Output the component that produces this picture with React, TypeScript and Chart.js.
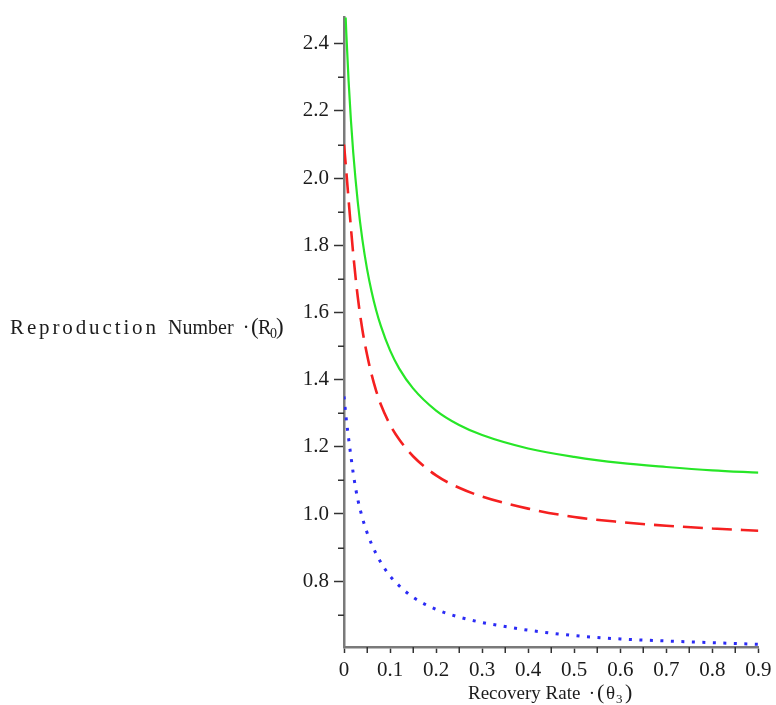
import React, { useEffect, useRef } from 'react';
import { Chart, registerables } from 'chart.js';

Chart.register(...registerables);

// ---- data ----
const greenTheta = [0, 0.005, 0.01, 0.015, 0.02, 0.03, 0.04, 0.05, 0.06, 0.07, 0.08, 0.1, 0.12, 0.15, 0.2, 0.25, 0.3, 0.4, 0.5, 0.6, 0.7, 0.8, 0.9];
const greenR = [2.6, 2.432, 2.289, 2.173, 2.077, 1.928, 1.816, 1.73, 1.662, 1.606, 1.56, 1.487, 1.433, 1.374, 1.308, 1.265, 1.235, 1.195, 1.17, 1.152, 1.14, 1.13, 1.123];

const redTheta = [0, 0.005, 0.01, 0.015, 0.02, 0.03, 0.04, 0.05, 0.06, 0.07, 0.08, 0.1, 0.12, 0.15, 0.2, 0.25, 0.3, 0.4, 0.5, 0.6, 0.7, 0.8, 0.9];
const redR = [2.1, 2.02, 1.935, 1.853, 1.775, 1.645, 1.548, 1.475, 1.415, 1.366, 1.326, 1.266, 1.222, 1.172, 1.115, 1.078, 1.052, 1.016, 0.991, 0.976, 0.965, 0.957, 0.95];

const blueTheta = [0, 0.005, 0.01, 0.015, 0.02, 0.025, 0.03, 0.04, 0.05, 0.06, 0.07, 0.08, 0.09, 0.1, 0.12, 0.15, 0.2, 0.25, 0.3, 0.35, 0.4, 0.5, 0.6, 0.7, 0.8, 0.9];
const blueR = [1.35, 1.282, 1.225, 1.172, 1.122, 1.079, 1.043, 0.988, 0.945, 0.91, 0.881, 0.856, 0.834, 0.815, 0.786, 0.752, 0.716, 0.693, 0.677, 0.665, 0.654, 0.638, 0.628, 0.622, 0.617, 0.612];

const xMajorTicks = [0, 0.1, 0.2, 0.3, 0.4, 0.5, 0.6, 0.7, 0.8, 0.9];
const xTickLabels = ['0', '0.1', '0.2', '0.3', '0.4', '0.5', '0.6', '0.7', '0.8', '0.9'];
const xMinorTicks = [0.05, 0.15, 0.25, 0.35, 0.45, 0.55, 0.65, 0.75, 0.85];
const yMajorTicks = [0.8, 1.0, 1.2, 1.4, 1.6, 1.8, 2.0, 2.2, 2.4];
const yTickLabels = ['0.8', '1.0', '1.2', '1.4', '1.6', '1.8', '2.0', '2.2', '2.4'];
const yMinorTicks = [0.7, 0.9, 1.1, 1.3, 1.5, 1.7, 1.9, 2.1, 2.3];
const xRange = [0, 0.9];
const yRange = [0.604, 2.478];

const FONT = '"Liberation Serif", "Times New Roman", serif';
const TEXT = '#1c1c1c';

function toPoints(xs: number[], ys: number[]) {
  return xs.map((x, i) => ({ x, y: ys[i] }));
}

function spread(ctx: CanvasRenderingContext2D, text: string, x0: number, x1: number, baseline: number) {
  const chars = [...text];
  const widths = chars.map((c) => ctx.measureText(c).width);
  const total = widths.reduce((a, b) => a + b, 0);
  const gap = (x1 - x0 - total) / Math.max(1, chars.length - 1);
  let x = x0;
  chars.forEach((c, i) => {
    ctx.fillText(c, x, baseline);
    x += widths[i] + gap;
  });
}

const decor = {
  id: 'decor',
  beforeDatasetsDraw(chart: any) {
    const { ctx, chartArea } = chart;
    const xs = chart.scales.x;
    const ys = chart.scales.y;
    ctx.save();
    ctx.strokeStyle = '#333';
    ctx.lineWidth = 1.5;
    ctx.beginPath();
    for (const v of yMinorTicks) {
      const py = Math.round(ys.getPixelForValue(v)) + 0.25;
      ctx.moveTo(chartArea.left - 6, py);
      ctx.lineTo(chartArea.left, py);
    }
    for (const v of xMinorTicks) {
      const px = Math.round(xs.getPixelForValue(v)) + 0.25;
      ctx.moveTo(px, chartArea.bottom);
      ctx.lineTo(px, chartArea.bottom + 6);
    }
    ctx.stroke();
    ctx.restore();
  },
  afterDraw(chart: any) {
    const ctx: CanvasRenderingContext2D = chart.ctx;
    ctx.save();
    ctx.fillStyle = TEXT;
    ctx.textBaseline = 'alphabetic';
    ctx.textAlign = 'left';

    // y-axis label (horizontal, left of the axis)
    const yb = 334;
    ctx.font = `21px ${FONT}`;
    spread(ctx, 'Reproduction', 10, 156, yb);
    ctx.font = `20px ${FONT}`;
    ctx.fillText('Number', 168, yb);
    ctx.textAlign = 'center';
    ctx.fillText('\u00b7', 246, yb);
    ctx.textAlign = 'left';
    ctx.font = `23px ${FONT}`;
    ctx.fillText('(', 251, yb);
    ctx.font = `20px ${FONT}`;
    ctx.fillText('R', 258, yb);
    ctx.font = `14px ${FONT}`;
    ctx.fillText('0', 270, yb + 4);
    ctx.font = `23px ${FONT}`;
    ctx.fillText(')', 276, yb);

    // x-axis label
    const xb = 699;
    ctx.font = `19px ${FONT}`;
    ctx.fillText('Recovery Rate', 468, xb);
    ctx.textAlign = 'center';
    ctx.fillText('\u00b7', 592, xb);
    ctx.textAlign = 'left';
    ctx.font = `22px ${FONT}`;
    ctx.fillText('(', 597, xb);
    ctx.font = `19px ${FONT}`;
    ctx.fillText('\u03b8', 606, xb);
    ctx.font = `13px ${FONT}`;
    ctx.fillText('3', 616, xb + 4);
    ctx.font = `22px ${FONT}`;
    ctx.fillText(')', 625, xb);
    ctx.restore();
  },
};

export default function App() {
  const ref = useRef<HTMLCanvasElement>(null);

  useEffect(() => {
    const canvas = ref.current;
    if (!canvas) return;
    const chart = new Chart(canvas, {
      type: 'line',
      data: {
        datasets: [
          {
            label: 'green',
            data: toPoints(greenTheta, greenR),
            borderColor: '#27e627',
            borderWidth: 2.2,
            pointRadius: 0,
            cubicInterpolationMode: 'monotone',
            fill: false,
          },
          {
            label: 'red',
            data: toPoints(redTheta, redR),
            borderColor: '#f52020',
            borderWidth: 2.6,
            borderDash: [20, 9],
            pointRadius: 0,
            cubicInterpolationMode: 'monotone',
            fill: false,
          },
          {
            label: 'blue',
            data: toPoints(blueTheta, blueR),
            borderColor: '#2b2bf5',
            borderWidth: 3,
            borderDash: [3, 7.5],
            pointRadius: 0,
            cubicInterpolationMode: 'monotone',
            fill: false,
          },
        ],
      },
      options: {
        responsive: false,
        animation: false,
        devicePixelRatio: 1,
        layout: { padding: { left: 0, top: 13, right: 15, bottom: 0 } },
        plugins: { legend: { display: false }, tooltip: { enabled: false } },
        events: [],
        scales: {
          x: {
            type: 'linear',
            position: 'bottom',
            min: xRange[0],
            max: xRange[1],
            afterBuildTicks: (s: any) => {
              s.ticks = xMajorTicks.map((v) => ({ value: v }));
            },
            afterFit: (s: any) => {
              s.height = 58;
            },
            ticks: {
              autoSkip: false,
              maxRotation: 0,
              padding: 4.5,
              color: TEXT,
              font: { family: FONT, size: 21 },
              callback: (_v: any, i: number) => xTickLabels[i],
            },
            grid: {
              drawOnChartArea: false,
              drawTicks: true,
              tickLength: 6,
              tickColor: '#333',
              tickWidth: 1.5,
            },
            border: { display: true, color: '#7a7a7a', width: 2.5 },
          },
          y: {
            type: 'linear',
            position: 'left',
            min: yRange[0],
            max: yRange[1],
            afterBuildTicks: (s: any) => {
              s.ticks = yMajorTicks.map((v) => ({ value: v }));
            },
            afterFit: (s: any) => {
              s.width = 344;
            },
            ticks: {
              autoSkip: false,
              padding: 5,
              color: TEXT,
              font: { family: FONT, size: 21 },
              callback: (_v: any, i: number) => yTickLabels[i],
            },
            grid: {
              drawOnChartArea: false,
              drawTicks: true,
              tickLength: 10,
              tickColor: '#333',
              tickWidth: 1.5,
            },
            border: { display: true, color: '#7a7a7a', width: 2.5 },
          },
        },
      } as any,
      plugins: [decor],
    });
    return () => chart.destroy();
  }, []);

  return (
    <div style={{ position: 'fixed', left: 0, top: 0, width: 776, height: 705, background: '#fff' }}>
      <canvas ref={ref} width={776} height={705} style={{ display: 'block', width: 776, height: 705 }} />
    </div>
  );
}
